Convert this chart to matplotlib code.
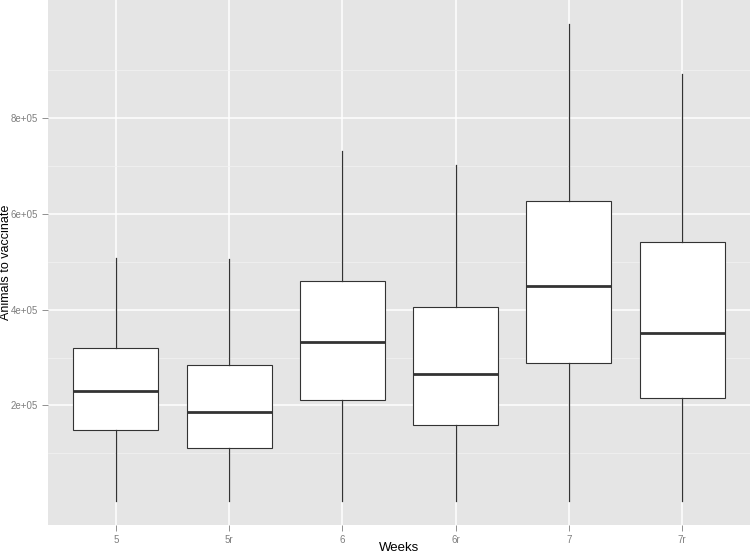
import matplotlib.pyplot as plt
from matplotlib.ticker import FixedLocator
import numpy as np

weeks = ["5", "5r", "6", "6r", "7", "7r"]
whisker_low = [0, 0, 0, 0, 0, 0]
q1 = [148000, 112000, 212000, 160000, 288000, 215000]
median = [231000, 187000, 333000, 265000, 450000, 352000]
q3 = [319000, 285000, 459000, 405000, 626000, 542000]
whisker_high = [507000, 506000, 731000, 703000, 997000, 893000]

plt.rcParams['font.family'] = ['Liberation Sans', 'DejaVu Sans']

fig = plt.figure(figsize=(7.5, 5.54), dpi=100)
ax = fig.add_axes([48 / 750, 29 / 554, 702 / 750, 525 / 554])
ax.set_facecolor('#E5E5E5')

# stats for the library's own box drawing
stats = []
for i in range(len(weeks)):
    stats.append({
        'label': weeks[i],
        'whislo': whisker_low[i],
        'q1': q1[i],
        'med': median[i],
        'q3': q3[i],
        'whishi': whisker_high[i],
        'fliers': [],
    })

positions = np.arange(1, len(weeks) + 1)
ax.bxp(stats, positions=positions, widths=0.75, patch_artist=True,
       showcaps=False, showfliers=False,
       boxprops=dict(facecolor='white', edgecolor='#333333', linewidth=0.8),
       whiskerprops=dict(color='#333333', linewidth=0.9),
       medianprops=dict(color='#333333', linewidth=2.0),
       zorder=3)

# ggplot style expansion
lo = min(whisker_low)
hi = max(whisker_high)
pad = (hi - lo) * 0.05
ax.set_ylim(lo - pad, hi + pad)
ax.set_xlim(0.4, len(weeks) + 0.6)

ax.yaxis.set_major_locator(FixedLocator([2e5, 4e5, 6e5, 8e5]))
ax.yaxis.set_minor_locator(FixedLocator([1e5, 3e5, 5e5, 7e5, 9e5]))
ax.set_yticklabels(["2e+05", "4e+05", "6e+05", "8e+05"])
ax.set_xticks(positions)
ax.set_xticklabels(weeks)

ax.grid(which='major', color='white', linewidth=1.1, zorder=0)
ax.grid(which='minor', axis='y', color='#F2F2F2', linewidth=0.5, zorder=0)
ax.set_axisbelow(True)

for s in ax.spines.values():
    s.set_visible(False)

ax.tick_params(which='major', length=4, width=0.6, color='#7F7F7F',
               labelcolor='#7F7F7F', labelsize=7, pad=3)
ax.tick_params(which='minor', length=0)

ax.set_xlabel("Weeks", fontsize=9.5, va='center')
ax.set_ylabel("Animals to vaccinate", fontsize=9, va='center')
ax.xaxis.set_label_coords(0.5, -23 / 525)
ax.yaxis.set_label_coords(-42 / 702, 0.5)

fig.savefig("out.png", dpi=100)
